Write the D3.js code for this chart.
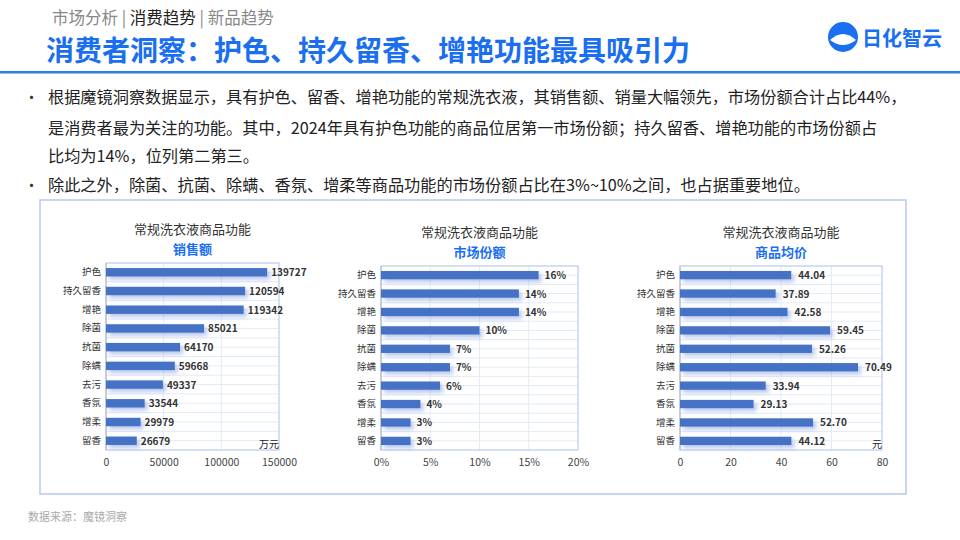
<!DOCTYPE html>
<html><head><meta charset="utf-8">
<script src="https://d3js.org/d3.v7.min.js"></script>
<style>body{margin:0;background:#fff;font-family:"Noto Sans CJK SC","Noto Sans",sans-serif}</style>
</head><body>
<svg id="c" width="960" height="540"></svg>
<script>
const categories = ["护色","持久留香","增艳","除菌","抗菌","除螨","去污","香氛","增柔","留香"];
const sales = [139727,120594,119342,85021,64170,59668,49337,33544,29979,26679];
const share = [16,14,14,10,7,7,6,4,3,3];
const price = [44.04,37.89,42.58,59.45,52.26,70.49,33.94,29.13,52.70,44.12];
const salesTicks = [0,50000,100000,150000];
const shareTicks = [0,5,10,15,20];
const priceTicks = [0,20,40,60,80];

const svg = d3.select("#c");
const F = '"Noto Sans CJK SC",sans-serif';

// header
svg.append("text").attr("x",52).attr("y",24).attr("font-size",16.5).attr("fill","#888").attr("font-family",F)
  .html('市场分析 | <tspan fill="#222">消费趋势</tspan> | 新品趋势');
svg.append("text").attr("x",46).attr("y",61).attr("font-size",28).attr("font-weight","bold").attr("fill","#1a6ff0").attr("font-family",F)
  .text("消费者洞察：护色、持久留香、增艳功能最具吸引力");
svg.append("rect").attr("x",0).attr("y",71).attr("width",960).attr("height",2.5).attr("fill","#2f7fe8");
// logo
svg.append("circle").attr("cx",843).attr("cy",37).attr("r",15).attr("fill","#1a6ff0");
svg.append("path").attr("d","M830,40 Q843,28 856,40 Q843,50 830,40Z").attr("fill","#fff");
svg.append("text").attr("x",862).attr("y",46).attr("font-size",20).attr("font-weight","bold").attr("fill","#1a6ff0").attr("font-family",F).text("日化智云");

const lines = [
  [34,103,"根据魔镜洞察数据显示，具有护色、留香、增艳功能的常规洗衣液，其销售额、销量大幅领先，市场份额合计占比44%，",true],
  [34,134,"是消费者最为关注的功能。其中，2024年具有护色功能的商品位居第一市场份额；持久留香、增艳功能的市场份额占",false],
  [34,162,"比均为14%，位列第二第三。",false],
  [34,191,"除此之外，除菌、抗菌、除螨、香氛、增柔等商品功能的市场份额占比在3%~10%之间，也占据重要地位。",true]];
lines.forEach(l=>{
  if(l[3]) svg.append("text").attr("x",24).attr("y",l[1]).attr("font-size",15).attr("fill","#333").text("•");
  svg.append("text").attr("x",48).attr("y",l[1]).attr("font-size",16.2).attr("fill","#222").attr("font-family",F).text(l[2]);
});

svg.append("rect").attr("x",40).attr("y",200).attr("width",866).attr("height",294).attr("fill","none").attr("stroke","#b7c9ea").attr("stroke-width",1.5);
svg.append("text").attr("x",28).attr("y",521).attr("font-size",11).attr("fill","#aaa").attr("font-family",F).text("数据来源：魔镜洞察");

const defs = svg.append("defs");
const flt = defs.append("filter").attr("id","sh").attr("x","-10%").attr("y","-50%").attr("width","130%").attr("height","250%");
flt.append("feDropShadow").attr("dx",3).attr("dy",3).attr("stdDeviation",2).attr("flood-color","#6f8fdc").attr("flood-opacity",0.5);

function chart(o){
  const x = d3.scaleLinear().domain(o.domain).range([o.x0,o.x1]);
  const y = d3.scaleBand().domain(categories).range([o.y0,o.y1]).paddingInner(0.55).paddingOuter(0.27);
  const g = svg.append("g").attr("font-family",F);
  const cx=(o.x0+o.x1)/2;
  g.append("text").attr("x",cx).attr("y",o.y0-29).attr("text-anchor","middle").attr("font-size",13).attr("fill","#333").text("常规洗衣液商品功能");
  g.append("text").attr("x",cx).attr("y",o.y0-9).attr("text-anchor","middle").attr("font-size",13).attr("font-weight","bold").attr("fill","#1a6ff0").text(o.sub);
  // grid
  const step=(o.y1-o.y0)/20;
  d3.range(21).forEach(i=>g.append("line").attr("x1",o.x0).attr("x2",o.x1).attr("y1",o.y0+i*step).attr("y2",o.y0+i*step).attr("stroke","#e3eaf7"));
  o.ticks.forEach(t=>g.append("line").attr("x1",x(t)).attr("x2",x(t)).attr("y1",o.y0).attr("y2",o.y1).attr("stroke","#e3eaf7"));
  g.append("rect").attr("x",o.x0).attr("y",o.y0).attr("width",o.x1-o.x0).attr("height",o.y1-o.y0).attr("fill","none").attr("stroke","#b9c9ee");
  g.append("line").attr("x1",o.x0).attr("x2",o.x0).attr("y1",o.y0).attr("y2",o.y1).attr("stroke","#bbb");
  g.append("g").selectAll("rect").data(o.vals).join("rect")
    .attr("x",o.x0).attr("y",(d,i)=>y(categories[i])).attr("width",d=>x(d)-o.x0).attr("height",y.bandwidth())
    .attr("fill","#4472c4").attr("filter","url(#sh)");
  g.append("g").selectAll("text").data(o.vals).join("text")
    .attr("x",d=>x(d)+o.gap).attr("y",(d,i)=>y(categories[i])+y.bandwidth()/2+4)
    .attr("font-size",10).attr("font-weight","bold").attr("fill","#333").text(o.fmt);
  const ya = g.append("g").attr("transform",`translate(${o.x0},0)`).call(d3.axisLeft(y).tickSize(0).tickPadding(5));
  ya.select(".domain").remove();
  ya.selectAll("text").attr("font-size",9.5).attr("fill","#333").attr("font-family",F);
  const xa = g.append("g").attr("transform",`translate(0,${o.y1+6})`).call(d3.axisBottom(x).tickValues(o.ticks).tickSize(0).tickFormat(o.tf));
  xa.select(".domain").remove();
  xa.selectAll("text").attr("font-size",10.5).attr("fill","#444").attr("font-family",F);
  if(o.unit) g.append("text").attr("x",o.x1).attr("y",o.y1-2).attr("text-anchor","end").attr("font-size",10).attr("fill","#222").text(o.unit);
}
chart({x0:106,x1:279,y0:263,y1:450,domain:[0,150000],ticks:salesTicks,vals:sales,sub:"销售额",fmt:d=>d,tf:d=>d,unit:"万元",gap:4});
chart({x0:381,x1:578,y0:266,y1:450,domain:[0,20],ticks:shareTicks,vals:share,sub:"市场份额",fmt:d=>d+"%",tf:d=>d+"%",gap:6});
chart({x0:680,x1:882,y0:266,y1:450,domain:[0,80],ticks:priceTicks,vals:price,sub:"商品均价",fmt:d=>d.toFixed(2),tf:d=>d,unit:"元",gap:7});
</script>
</body></html>
